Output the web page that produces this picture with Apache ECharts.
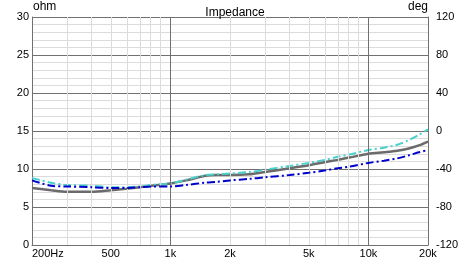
<!DOCTYPE html>
<html><head><meta charset="utf-8">
<script src="https://cdn.jsdelivr.net/npm/echarts@6/dist/echarts.min.js"></script>
<style>html,body{margin:0;padding:0;background:#fff}#c{width:461px;height:260px}</style>
</head><body><div id="c"></div>
<script>
var freqs = [200,250,300,400,500,600,700,800,1000,1200,1500,1700,2000,2500,3000,4000,5000,6000,7000,8000,10000,12000,14000,16000,18000,20000];
var grayVals = [7.5,7.2,7.0,7.0,7.2,7.4,7.6,7.8,8.1,8.5,9.1,9.2,9.2,9.3,9.6,10.1,10.5,10.9,11.2,11.5,12.0,12.2,12.4,12.7,13.1,13.6];
var cyanVals = [8.8,8.2,7.9,7.8,7.6,7.6,7.7,7.9,8.1,8.6,9.2,9.3,9.4,9.6,9.9,10.4,10.8,11.2,11.6,11.9,12.5,12.8,13.2,13.8,14.5,15.2];
var blueVals = [8.5,7.8,7.7,7.6,7.5,7.5,7.6,7.7,7.7,7.9,8.2,8.3,8.5,8.7,8.9,9.2,9.5,9.8,10.1,10.3,10.8,11.1,11.4,11.8,12.2,12.5];
var xLabelFreqs = [200,500,1000,2000,5000,10000,20000];
var xLabelTexts = ['200Hz','500','1k','2k','5k','10k','20k'];
var xMajorGrid = [1000,10000];
var xMinorGrid = [300,400,500,600,700,800,900,2000,3000,4000,5000,6000,7000,8000,9000];
var leftTitle = 'ohm', rightTitle = 'deg', chartTitle = 'Impedance';

function lg(f){ return Math.log10(f); }
function pts(vals){ return freqs.map(function(f,i){ return [lg(f), vals[i]]; }); }
var FONT = 'Liberation Sans';
var labelMap = {};
xLabelFreqs.forEach(function(f,i){ labelMap[lg(f).toFixed(5)] = xLabelTexts[i]; });

var gridLines = xMinorGrid.map(function(f){ return {xAxis: lg(f), lineStyle:{color:'#dcdcdc', width:1, type:'solid'}}; })
  .concat(xMajorGrid.map(function(f){ return {xAxis: lg(f), lineStyle:{color:'#707070', width:1, type:'solid'}}; }));

var ts = {fontFamily:FONT, fontSize:12, fontWeight:'normal', color:'#000'};
var chart = echarts.init(document.getElementById('c'), null, {renderer:'canvas'});
chart.setOption({
  animation:false,
  backgroundColor:'#fff',
  title:[
    {text:chartTitle, left:230, top:2, textAlign:'center', textStyle:ts},
    {text:leftTitle, left:32, top:1, padding:[0,0,0,1], textStyle:ts},
    {text:rightTitle, right:33, top:1, padding:0, textStyle:ts}
  ],
  grid:{left:32, right:32, top:17, bottom:15},
  xAxis:{
    type:'value', min:lg(200), max:lg(20000),
    axisLine:{show:true, onZero:false, lineStyle:{color:'#707070', width:1}},
    axisTick:{show:false},
    splitLine:{show:false},
    axisLabel:{
      customValues: xLabelFreqs.map(lg),
      alignMinLabel:'left',
      fontFamily:FONT, fontSize:11, color:'#000', margin:3,
      formatter:function(v){ return labelMap[v.toFixed(5)] || ''; }
    }
  },
  yAxis:[{
    type:'value', min:0, max:30, interval:5, position:'left',
    axisLine:{show:true, lineStyle:{color:'#707070'}},
    axisTick:{show:false},
    axisLabel:{fontFamily:FONT, fontSize:11, color:'#000', margin:3},
    splitLine:{show:true, lineStyle:{color:'#707070', width:1}},
    minorTick:{show:false, splitNumber:5},
    minorSplitLine:{show:true, lineStyle:{color:'#dcdcdc', width:1}}
  },{
    type:'value', min:-120, max:120, interval:40, position:'right',
    axisLine:{show:true, lineStyle:{color:'#707070'}},
    axisTick:{show:false},
    axisLabel:{fontFamily:FONT, fontSize:11, color:'#000', margin:8},
    splitLine:{show:false}
  }],
  series:[
    {type:'line', name:'grid', data:[], silent:true,
     markLine:{silent:true, symbol:'none', label:{show:false}, animation:false, data:gridLines}},
    {type:'line', name:'Impedance', data:pts(grayVals), showSymbol:false, smooth:0.3, z:3,
     lineStyle:{color:'#6b6b6b', width:2.5}},
    {type:'line', name:'Cyan', data:pts(cyanVals), showSymbol:false, smooth:0.3, z:4,
     lineStyle:{color:'#48d1cc', width:2, type:[8,3,2,3]}},
    {type:'line', name:'Blue', data:pts(blueVals), showSymbol:false, smooth:0.3, z:5,
     lineStyle:{color:'#0000cd', width:2, type:[8,3,2,3]}}
  ]
});
</script></body></html>
